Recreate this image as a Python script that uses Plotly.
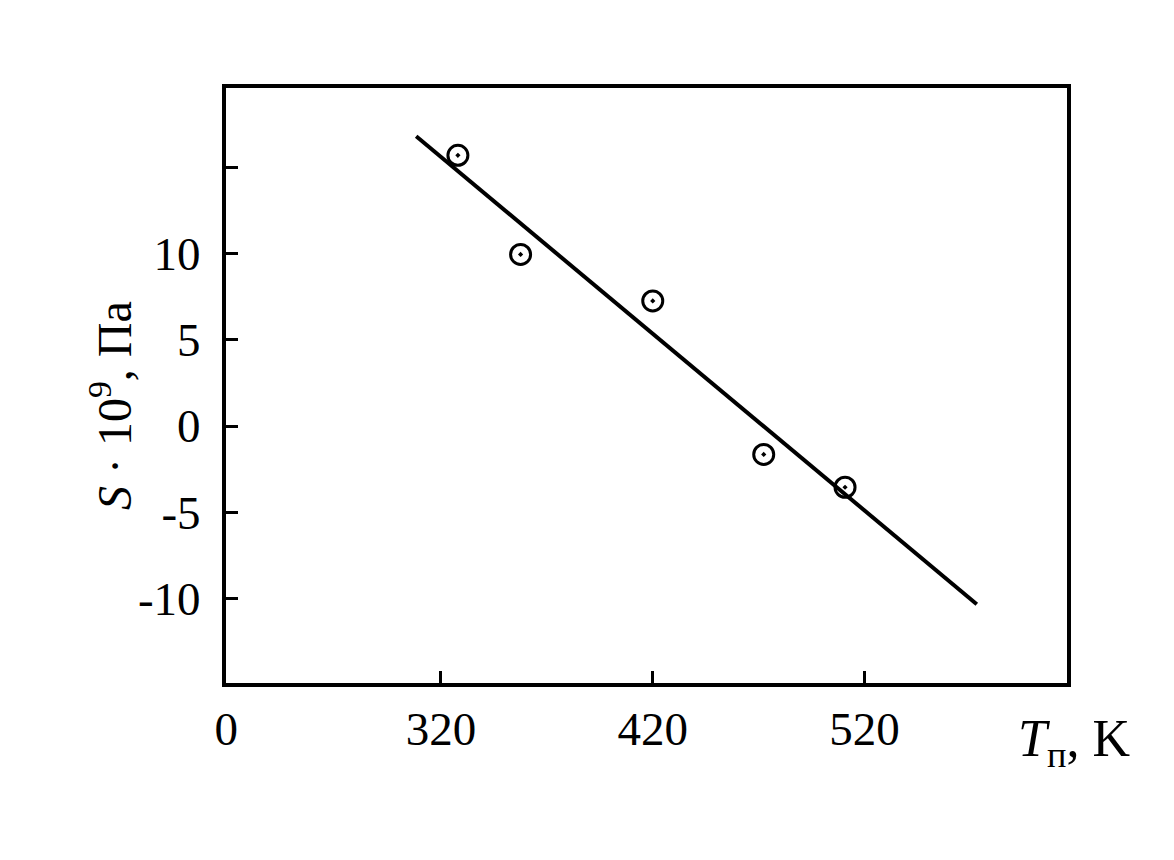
import plotly.graph_objects as go

# Data
T_points = [328.0, 357.6, 420.0, 472.4, 510.8]
S_points = [15.7, 9.95, 7.25, -1.65, -3.55]

T_line = [308.3, 573.0]
S_line = [16.8, -10.33]

x_tickvals = [218.6, 320, 420, 520]
x_ticktext = ["0", "320", "420", "520"]
y_tickvals = [15, 10, 5, 0, -5, -10]
y_ticktext = ["", "10", "5", "0", "-5", "-10"]

X_RANGE = [218.5, 615.6]
Y_RANGE = [-14.9, 19.6]

FONT = "Liberation Serif"

# target frame edges in screenshot pixels (page has ~8px body offset)
L, R, T, B = 224, 1069, 86, 683
OFF = 6
ml, mt = L - OFF, T - OFF
mr = 1174 - R + OFF + 4
mb = 860 - B + OFF + 2

fig = go.Figure()
fig.add_trace(go.Scatter(x=T_line, y=S_line, mode="lines",
                         line=dict(color="black", width=4), showlegend=False))
fig.add_trace(go.Scatter(x=T_points, y=S_points, mode="markers",
                         marker=dict(symbol="circle-open-dot", size=20, color="black",
                                     line=dict(color="black", width=3)),
                         showlegend=False))

fig.update_layout(
    width=1174, height=860,
    margin=dict(l=ml, r=mr, t=mt, b=mb),
    paper_bgcolor="white", plot_bgcolor="white",
    font=dict(family=FONT, size=47, color="black"),
    xaxis=dict(range=X_RANGE, tickvals=x_tickvals, ticktext=x_ticktext,
               showgrid=False, zeroline=False, showline=True, mirror=True,
               linecolor="black", linewidth=4, ticks="inside", ticklen=12,
               tickwidth=3, tickcolor="black", ticklabelstandoff=2),
    yaxis=dict(range=Y_RANGE, tickvals=y_tickvals, ticktext=y_ticktext,
               showgrid=False, zeroline=False, showline=True, mirror=True,
               linecolor="black", linewidth=4, ticks="inside", ticklen=12,
               tickwidth=3, tickcolor="black", ticklabelstandoff=12),
)

pw = (1174 - ml - mr)
ph = (860 - mt - mb)
def px_to_paper_x(px):
    return (px - 8 - ml) / pw
def px_to_paper_y(py):
    return 1 - (py - 8 - mt) / ph

fig.add_annotation(text="<i>S</i> · 10<sup>9</sup>, Па", xref="paper", yref="paper",
                   x=px_to_paper_x(111), y=px_to_paper_y(405),
                   textangle=-90, showarrow=False, xanchor="center", yanchor="middle",
                   font=dict(family=FONT, size=48, color="black"))
fig.add_annotation(text="<i>T</i><sub>п</sub>, K", xref="paper", yref="paper",
                   x=px_to_paper_x(1074), y=px_to_paper_y(742),
                   showarrow=False, xanchor="center", yanchor="middle",
                   font=dict(family=FONT, size=52, color="black"))

fig.write_html("out.html")
